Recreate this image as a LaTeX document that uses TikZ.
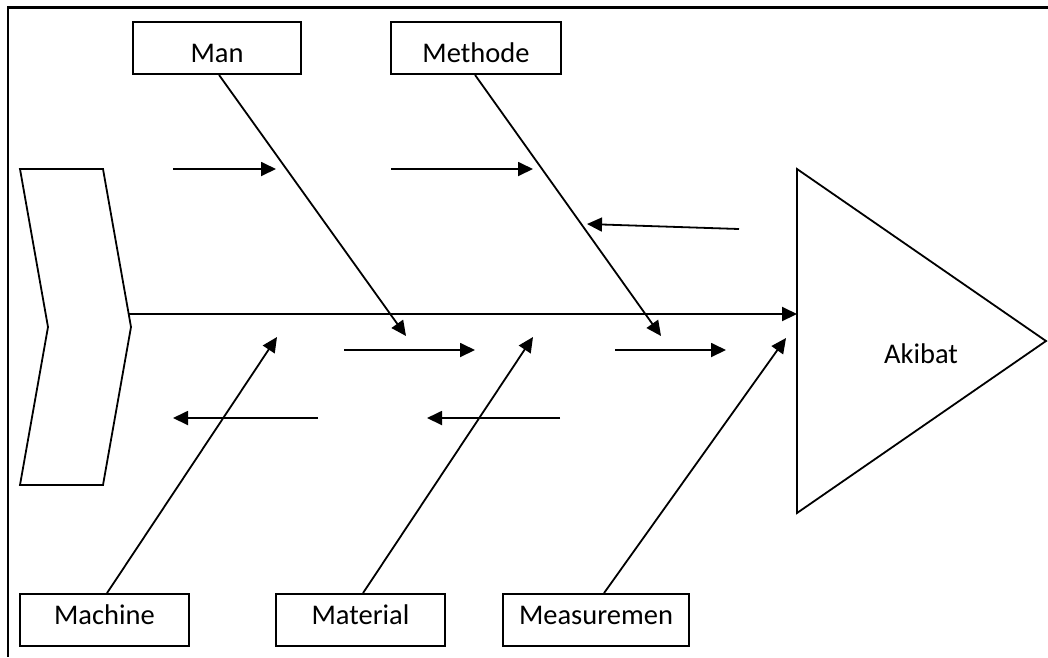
\documentclass[tikz,border=0pt]{standalone}
\usepackage{fontspec}
\setmainfont{Carlito}
\usetikzlibrary{arrows.meta}
\begin{document}
\begin{tikzpicture}[x=1pt,y=-1pt,
  line width=1.8pt,
  tip/.style={-{Triangle[length=15pt,width=14pt]}},
  labelfont/.style={font=\fontsize{28.5}{34}\selectfont},
  causebox/.style={draw, line width=1.8pt, minimum height=52pt, inner sep=0pt, labelfont},
  topbox/.style={causebox, text height=28pt, text depth=0pt},
  botbox/.style={causebox, text height=18pt, text depth=10pt},
]
\useasboundingbox (0,0) rectangle (1048,657);

% page frame
\draw[line width=2.4pt] (1048,7.5) -- (8,7.5) -- (8,657);

% cause boxes
\node[topbox, minimum width=168pt] (man) at (217,48) {Man};
\node[topbox, minimum width=170pt] (methode) at (476,48) {Methode};
\node[botbox, minimum width=169pt] (machine) at (104.5,620) {Machine};
\node[botbox, minimum width=169pt] (material) at (360.5,620) {Material};
\node[botbox, minimum width=186pt] (measure) at (596,620) {Measuremen};

% chevron at the tail of the spine
\draw (20,169) -- (103,169) -- (131,327) -- (103,485) -- (20,485) -- (48,327) -- cycle;
\coordinate (tail) at (129,314);

% effect head
\draw (797,169) -- (1046,341) -- (797,513) -- cycle;
\node[labelfont, text height=18pt, text depth=0pt, inner sep=0pt] (akibat) at (921,354) {Akibat};
\coordinate (head) at (797,314);

% spine
\draw[tip, line width=2pt] (tail) -- (head);

% main bones
\coordinate (manTip) at (406,336);
\coordinate (methodeTip) at (661,336);
\coordinate (machineTip) at (277,337);
\coordinate (materialTip) at (533,337);
\coordinate (measureTip) at (786,338);
\draw[tip] ([xshift=2pt]man.south) -- (manTip);
\draw[tip] ([xshift=-1pt]methode.south) -- (methodeTip);
\draw[tip] ([xshift=2.5pt]machine.north) -- (machineTip);
\draw[tip] ([xshift=2.5pt]material.north) -- (materialTip);
\draw[tip] ([xshift=8pt]measure.north) -- (measureTip);

% minor causes
\coordinate (a1s) at (173,169); \coordinate (a1e) at (276,169);
\coordinate (a2s) at (391,169); \coordinate (a2e) at (533,169);
\coordinate (a3s) at (739,229); \coordinate (a3e) at (587,224);
\coordinate (a4s) at (344,350); \coordinate (a4e) at (475,350);
\coordinate (a5s) at (615,350); \coordinate (a5e) at (726,350);
\coordinate (a6s) at (318,418); \coordinate (a6e) at (173,418);
\coordinate (a7s) at (560,418); \coordinate (a7e) at (427,418);
\foreach \k in {1,...,7}
  \draw[tip] (a\k s) -- (a\k e);
\end{tikzpicture}
\end{document}
